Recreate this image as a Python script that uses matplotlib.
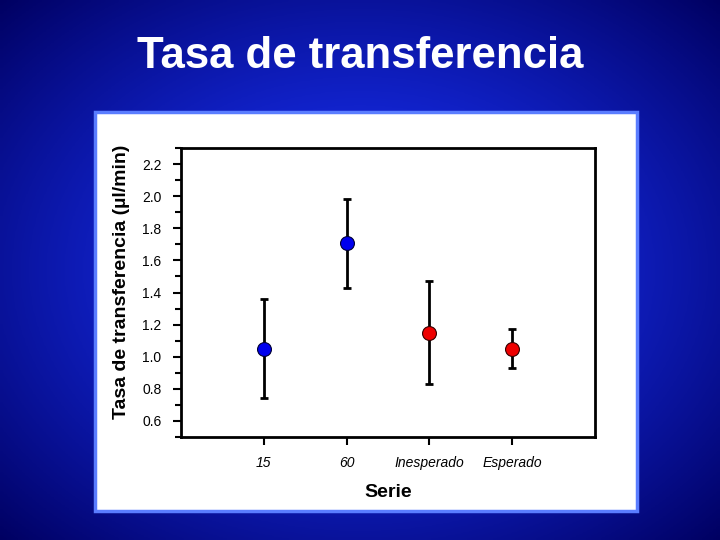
import numpy as np
import matplotlib
matplotlib.use("Agg")
import matplotlib.pyplot as plt
from matplotlib.patches import Rectangle
from matplotlib.ticker import MultipleLocator

categories = ["15", "60", "Inesperado", "Esperado"]
means = [1.05, 1.71, 1.15, 1.05]
upper = [1.36, 1.98, 1.47, 1.17]
lower = [0.74, 1.43, 0.83, 0.93]
colors = ["#0000ee", "#0000ee", "#ee0000", "#ee0000"]

W, H = 720, 540
fig = plt.figure(figsize=(7.2, 5.4), dpi=100)

# background gradient
bg = fig.add_axes([0, 0, 1, 1])
yy, xx = np.mgrid[0:1:200j, 0:1:200j]
r = np.sqrt(((xx - 0.5) / 0.75) ** 2 + ((yy - 0.5) / 0.75) ** 2)
r = np.clip(r / 0.95, 0, 1) ** 1.3
c0 = np.array([0.1, 0.2, 1.0]); c1 = np.array([0.0, 0.0, 0.38])
img = c0[None, None, :] * (1 - r[..., None]) + c1[None, None, :] * r[..., None]
bg.imshow(img, extent=[0, 1, 0, 1], aspect="auto", zorder=0)
bg.set_xlim(0, 1); bg.set_ylim(0, 1); bg.axis("off")
bg.add_patch(Rectangle((95 / W, 1 - 511 / H), (637 - 95) / W, (511 - 112) / H,
                       facecolor="white", edgecolor="#5a7dff", linewidth=2.5))
fig.text(0.5, 1 - 56 / H, "Tasa de transferencia", ha="center", va="center",
         color="white", fontsize=31.5, fontweight="bold", family="Liberation Sans")

ax = fig.add_axes([181 / W, 1 - 437 / H, (595 - 181) / W, (437 - 148) / H])
ax.set_facecolor("white")
x = np.arange(1, len(categories) + 1)
for xi, m, u, l, c in zip(x, means, upper, lower, colors):
    ax.errorbar([xi], [m], yerr=[[m - l], [u - m]], fmt="none", ecolor="black",
                elinewidth=2, capsize=3, capthick=2, zorder=2)
    ax.plot([xi], [m], "o", color=c, markersize=10, markeredgecolor="#330000" if c == "#ee0000" else "#000033",
            markeredgewidth=0.8, zorder=3)
ax.set_xlim(0, 5)
ax.set_ylim(0.5, 2.3)
ax.set_xticks(x)
ax.set_xticklabels(categories, fontstyle="italic", fontsize=10, family="Liberation Sans")
ax.set_yticks([0.6, 0.8, 1.0, 1.2, 1.4, 1.6, 1.8, 2.0, 2.2])
ax.set_yticklabels([f"{v:.1f}" for v in [0.6, 0.8, 1.0, 1.2, 1.4, 1.6, 1.8, 2.0, 2.2]],
                   fontsize=10, family="Liberation Sans")
ax.yaxis.set_minor_locator(MultipleLocator(0.1))
ax.tick_params(axis="both", which="major", direction="out", length=6, width=1.5, pad=8)
ax.tick_params(axis="y", which="minor", direction="out", length=4, width=1.5)
for s in ax.spines.values():
    s.set_linewidth(2)
ax.set_xlabel("Serie", fontsize=14, fontweight="bold", family="Liberation Sans", labelpad=10)
fig.text(121 / W, 1 - 282 / H, "Tasa de transferencia (µl/min)", rotation=90,
         ha="center", va="center", fontsize=14, fontweight="bold", family="Liberation Sans")
fig.savefig("out.png", dpi=100)
